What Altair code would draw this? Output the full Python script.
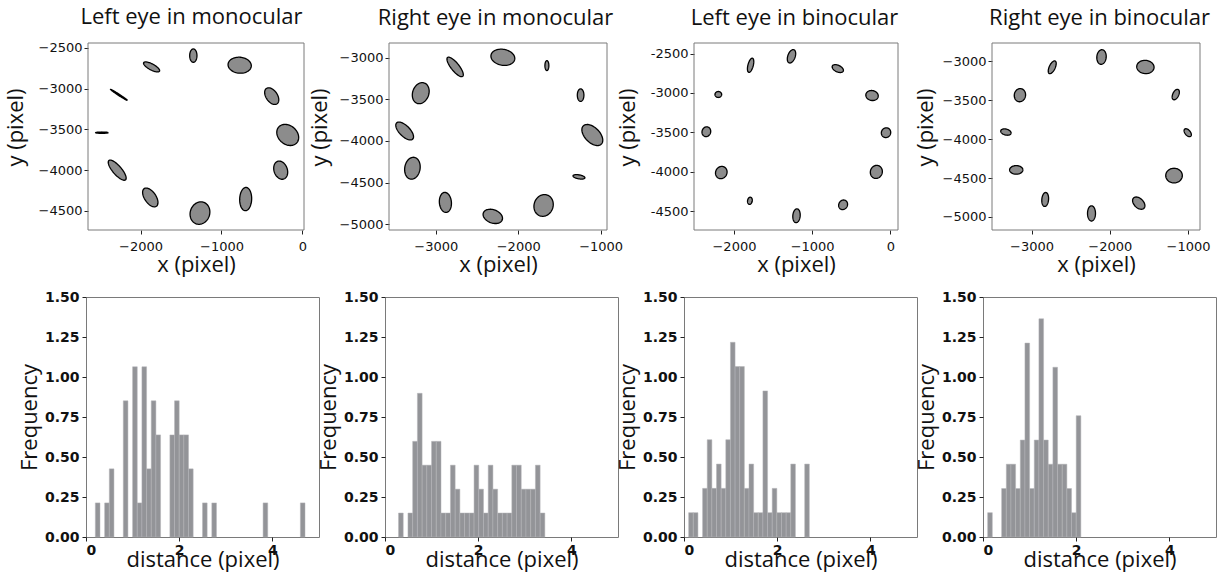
import numpy as np
import pandas as pd
import altair as alt

# ---------------- data ----------------
TITLES = ["Left eye in monocular", "Right eye in monocular",
          "Left eye in binocular", "Right eye in binocular"]

# ellipse centres (pixel), semi-axes (pixel) and rotation (deg) per panel
P1_CX = [-1348, -1864, -775, -2268, -379, -2478, -181, -2289, -268, -1880, -701, -1266]
P1_CY = [-2594, -2733, -2712, -3076, -3092, -3541, -3569, -4002, -4002, -4337, -4357, -4529]
P1_A = [82, 111, 144, 124, 115, 78, 148, 157, 115, 132, 143, 140]
P1_B = [45, 37, 98, 8, 70, 8, 115, 54, 82, 70, 74, 120]
P1_ANG = [90, -28, -5, -33, -55, 0, -40, -49, -70, -55, 88, 70]

P2_CX = [-2186, -2765, -1652, -3182, -1243, -3377, -1101, -3283, -1263, -2883, -1692, -2308]
P2_CY = [-2992, -3108, -3092, -3424, -3448, -3880, -3928, -4328, -4432, -4740, -4776, -4908]
P2_A = [146, 146, 60, 130, 76, 138, 155, 133, 73, 121, 133, 122]
P2_B = [96, 48, 24, 98, 40, 64, 90, 93, 24, 73, 115, 80]
P2_ANG = [-10, -51, 90, 70, 90, -45, -45, 80, -10, 95, 70, -20]

P3_CX = [-1264, -1787, -672, -2200, -234, -2353, -55, -2162, -179, -1796, -604, -1200]
P3_CY = [-2534, -2648, -2690, -3019, -3032, -3492, -3504, -4010, -4002, -4369, -4420, -4559]
P3_A = [89, 93, 77, 43, 80, 63, 63, 80, 84, 46, 63, 88]
P3_B = [47, 34, 42, 38, 63, 55, 59, 72, 76, 30, 55, 47]
P3_ANG = [70, 75, -25, 0, -10, 70, 60, 60, 70, 80, 60, 85]

P4_CX = [-2106, -2736, -1545, -3149, -1157, -3328, -1004, -3196, -1179, -2826, -1630, -2234]
P4_CY = [-2945, -3077, -3073, -3435, -3427, -3909, -3917, -4395, -4468, -4775, -4822, -4954]
P4_A = [94, 89, 111, 85, 72, 68, 60, 85, 106, 90, 94, 98]
P4_B = [60, 38, 85, 72, 38, 38, 34, 55, 94, 43, 60, 51]
P4_ANG = [85, 65, -5, 80, 65, -15, -50, 0, 0, 85, -45, 90]

X_DOMAINS = [[-2650, 20], [-3567, -923], [-2511, 98], [-3506, -847]]
Y_DOMAINS = [[-4737, -2439], [-5072, -2820], [-4740, -2365], [-5167, -2765]]
X_TICKS = [[-2000, -1000, 0], [-3000, -2000, -1000], [-2000, -1000, 0], [-3000, -2000, -1000]]
Y_TICKS = [[-4500, -4000, -3500, -3000, -2500], [-5000, -4500, -4000, -3500, -3000],
           [-4500, -4000, -3500, -3000, -2500], [-5000, -4500, -4000, -3500, -3000]]

# histograms: first bin edge, bin width, density per bin
H1_START, H1_WIDTH = 0.20, 0.100
H1_DENS = [0.213, 0, 0.213, 0.426, 0, 0, 0.851, 0, 1.064, 0.213, 1.064, 0.426, 0.851, 0.638,
           0, 0, 0.638, 0.851, 0.638, 0.638, 0.426, 0, 0, 0.213, 0, 0.213,
           0, 0, 0, 0, 0, 0, 0, 0, 0, 0, 0.213, 0, 0, 0, 0, 0, 0, 0, 0.213]
H2_START, H2_WIDTH = 0.29, 0.1013
H2_DENS = [0.150, 0, 0.150, 0.598, 0.898, 0.449, 0.449, 0.598, 0.598, 0.150, 0.150, 0.449,
           0.299, 0.150, 0.150, 0.150, 0.449, 0.299, 0.150, 0.449, 0.299, 0.150, 0.150, 0.150,
           0.449, 0.449, 0.299, 0.299, 0.299, 0.449, 0.150]
H3_START, H3_WIDTH = 0.10, 0.0996
H3_DENS = [0.152, 0.152, 0, 0.304, 0.608, 0.304, 0.456, 0.304, 0.608, 1.217, 1.065, 1.065,
           0.304, 0.456, 0.152, 0.152, 0.913, 0.152, 0.304, 0.152, 0.152, 0.152, 0.456, 0, 0, 0.456]
H4_START, H4_WIDTH = 0.10, 0.100
H4_DENS = [0.152, 0, 0, 0.303, 0.455, 0.455, 0.303, 0.606, 1.212, 0.303, 0.606, 1.364, 0.606,
           0.455, 1.061, 0.455, 0.455, 0.303, 0.152, 0.758]

FREQ_TICKS = [0, 0.25, 0.5, 0.75, 1.0, 1.25, 1.5]
DIST_TICKS = [0, 2, 4]

# ---------------- layout / style ----------------
CELL_W = 233                   # grid column width (= histogram plot width)
TOP_H, BOT_H = 187, 240
TOP_OFF = [2, 4, 10, 9]        # scatter plot left inset inside its grid cell
TOP_W = [216, 218, 204, 208]   # scatter plot widths
TITLE_DX = [-11, -6, -6, 0]
Y_TITLE_X = [-66, -63, -60, -60]
FRAME = "#7a7a7a"
ELL_FILL = "#8c8c8c"
BAR_FILL = "#939498"
TICK_FONT = "DejaVu Sans"
TEXT_FONT = "Open Sans"


def ellipse_tables(cx, cy, a, b, ang):
    outline, fill = [], []
    t = np.linspace(0, 2 * np.pi, 73)
    for i in range(len(cx)):
        th = np.deg2rad(ang[i])
        c, s = np.cos(th), np.sin(th)
        xs = cx[i] + a[i] * np.cos(t) * c - b[i] * np.sin(t) * s
        ys = cy[i] + a[i] * np.cos(t) * s + b[i] * np.sin(t) * c
        for k in range(len(t)):
            outline.append(dict(id=i, k=k, x=xs[k], y=ys[k]))
        W = np.sqrt((a[i] * c) ** 2 + (b[i] * s) ** 2)
        A = s * s / a[i] ** 2 + c * c / b[i] ** 2
        for k in range(61):
            dx = -W * np.cos(np.pi * k / 60)
            B = 2 * dx * s * c * (1 / a[i] ** 2 - 1 / b[i] ** 2)
            C = dx * dx * (c * c / a[i] ** 2 + s * s / b[i] ** 2) - 1
            r = np.sqrt(max(B * B - 4 * A * C, 0.0))
            fill.append(dict(id=i, x=cx[i] + dx,
                             y=cy[i] + (-B - r) / (2 * A),
                             y2=cy[i] + (-B + r) / (2 * A)))
    return pd.DataFrame(outline), pd.DataFrame(fill)


ELLIPSES = [
    (P1_CX, P1_CY, P1_A, P1_B, P1_ANG),
    (P2_CX, P2_CY, P2_A, P2_B, P2_ANG),
    (P3_CX, P3_CY, P3_A, P3_B, P3_ANG),
    (P4_CX, P4_CY, P4_A, P4_B, P4_ANG),
]
HISTS = [(H1_START, H1_WIDTH, H1_DENS), (H2_START, H2_WIDTH, H2_DENS),
         (H3_START, H3_WIDTH, H3_DENS), (H4_START, H4_WIDTH, H4_DENS)]


def scatter_panel(i):
    outline, fill = ellipse_tables(*ELLIPSES[i])
    frame = pd.DataFrame([dict(x0=X_DOMAINS[i][0], x1=X_DOMAINS[i][1],
                               y0=Y_DOMAINS[i][0], y1=Y_DOMAINS[i][1])])
    xs = alt.Scale(domain=X_DOMAINS[i], nice=False, zero=False,
                   range=[TOP_OFF[i], TOP_OFF[i] + TOP_W[i]])
    ys = alt.Scale(domain=Y_DOMAINS[i], nice=False, zero=False)
    xax = alt.Axis(values=X_TICKS[i], format="d", title="x (pixel)",
                   labelFont=TICK_FONT, labelFontSize=13, labelPadding=6,
                   titleY=41, titleBaseline="alphabetic")
    yargs = dict(values=Y_TICKS[i], format="d", title="y (pixel)", offset=-TOP_OFF[i],
                 labelFont=TICK_FONT, labelFontSize=13, labelPadding=2,
                 titleX=Y_TITLE_X[i], titleY=84, titleBaseline="alphabetic")
    if i == 2:
        yargs["labelExpr"] = "replace(datum.label, '\u2212', '-')"
    yax = alt.Axis(**yargs)
    area = alt.Chart(fill).mark_area(orient="vertical", color=ELL_FILL).encode(
        x=alt.X("x:Q", scale=xs, axis=xax),
        y=alt.Y("y:Q", scale=ys, axis=yax),
        y2="y2:Q",
        detail="id:N",
    )
    line = alt.Chart(outline).mark_line(color="black", strokeWidth=1.3).encode(
        x=alt.X("x:Q", scale=xs, axis=xax),
        y=alt.Y("y:Q", scale=ys, axis=yax),
        detail="id:N",
        order="k:Q",
    )
    box = alt.Chart(frame).mark_rect(filled=False, stroke=FRAME, strokeWidth=1).encode(
        x=alt.X("x0:Q", scale=xs, axis=xax),
        x2="x1:Q",
        y=alt.Y("y0:Q", scale=ys, axis=yax),
        y2="y1:Q",
    )
    return alt.layer(area, line, box).properties(
        width=CELL_W, height=TOP_H,
        view=alt.ViewBackground(strokeOpacity=0),
        title=alt.TitleParams(TITLES[i], font=TEXT_FONT, fontSize=22, fontWeight="normal",
                              anchor="middle", frame="group", baseline="alphabetic",
                              offset=-4, dx=TITLE_DX[i], color="#111111"),
    )


def hist_panel(j):
    start, width, dens = HISTS[j]
    rows = []
    for k, h in enumerate(dens):
        if h > 0:
            rows.append(dict(left=start + k * width, right=start + (k + 1) * width,
                             base=0.0, h=h))
    df = pd.DataFrame(rows)
    return alt.Chart(df).mark_bar(color=BAR_FILL, stroke="#b4b4b8", strokeWidth=0.5).encode(
        x=alt.X("left:Q", scale=alt.Scale(domain=[0, 5], nice=False, zero=False),
                axis=alt.Axis(values=DIST_TICKS, format="d", title="distance (pixel)",
                              labelFont=TICK_FONT, labelFontWeight="bold", labelFontSize=14,
                              labelPadding=2, titleY=29, titleBaseline="alphabetic")),
        x2="right:Q",
        y=alt.Y("h:Q", scale=alt.Scale(domain=[0, 1.5], nice=False),
                axis=alt.Axis(values=FREQ_TICKS, format=".2f", title="Frequency",
                              labelFont=TICK_FONT, labelFontWeight="bold", labelFontSize=14,
                              labelPadding=3, titleX=-50, titleBaseline="alphabetic")),
        y2="base:Q",
    ).properties(width=CELL_W, height=BOT_H)


panels = [scatter_panel(i) for i in range(4)] + [hist_panel(j) for j in range(4)]

chart = alt.concat(*panels, columns=4, spacing={"row": 67, "column": 66},
                   bounds="flush").properties(
    padding={"left": 4, "top": 5, "right": 4, "bottom": 4},
    background="white",
).configure_view(
    stroke=FRAME, strokeWidth=1,
).configure_axis(
    domain=False, grid=False, tickColor="#222222", tickSize=4, tickWidth=1,
    labelColor="#111111", titleColor="#111111", titleFont=TEXT_FONT,
    titleFontSize=22, titleFontWeight="normal",
)

chart.save("out.html", embed_options={"renderer": "svg", "actions": False})
